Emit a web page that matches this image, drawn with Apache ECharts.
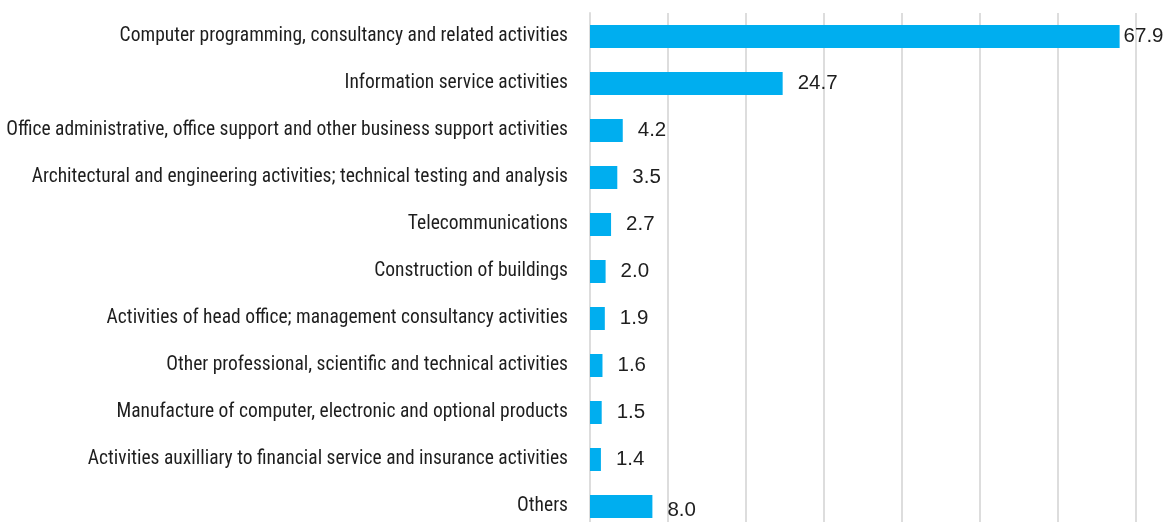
<!DOCTYPE html>
<html>
<head>
<meta charset="utf-8">
<script src="https://cdn.jsdelivr.net/npm/echarts@6/dist/echarts.min.js"></script>
<style>
  html, body { margin: 0; padding: 0; background: #fff; }
  #chart-container { width: 1167px; height: 522px; }
</style>
</head>
<body>
<div id="chart-container"></div>
<script>
// categories, top to bottom
const categories = [
    'Computer programming, consultancy and related activities',
    'Information service activities',
    'Office administrative, office support and other business support activities',
    'Architectural and engineering activities; technical testing and analysis',
    'Telecommunications',
    'Construction of buildings',
    'Activities of head office; management consultancy activities',
    'Other professional, scientific and technical activities',
    'Manufacture of computer, electronic and optional products',
    'Activities auxilliary to financial service and insurance activities',
    'Others'
]

// share values
const shares = [67.9, 24.7, 4.2, 3.5, 2.7, 2.0, 1.9, 1.6, 1.5, 1.4, 8.0]

// value axis range
const axisMin = 0
const axisMax = 70
const axisStep = 10

function createChart(id) {
    var dom = document.getElementById(id);
    var barChart = echarts.init(dom, null, {
        renderer: 'canvas',
        useDirtyRect: false
    });

    // top bar sits against the edge, its label hugs it
    let barData = shares.map((v, i) => {
        let item = { value: v }
        if (i == 0) {
            item.label = { distance: 4 }
        }
        if (i == shares.length - 1) {
            item.label = { offset: [0, 4] }
        }
        return item
    })

    var chartDetail = {
        animation: false,
        grid: {
            left: 590,
            right: 31,
            top: 13,
            bottom: -8,
            containLabel: false,
            outerBoundsMode: 'none'
        },
        xAxis: {
            type: 'value',
            min: axisMin,
            max: axisMax,
            interval: axisStep,
            axisLabel: { show: false },
            axisTick: { show: false },
            axisLine: { show: false },
            splitLine: {
                show: true,
                lineStyle: { color: '#dddddd', width: 2 }
            }
        },
        yAxis: {
            type: 'category',
            inverse: true,
            data: categories,
            axisTick: { show: false },
            axisLine: {
                show: true,
                lineStyle: { color: '#dddddd', width: 2 }
            },
            axisLabel: {
                margin: 22,
                color: '#1e1e1e',
                fontSize: 19.5,
                fontFamily: '"Liberation Sans Narrow", "Roboto Condensed", "DejaVu Sans Condensed", sans-serif'
            }
        },
        series: [
            {
                type: 'bar',
                data: barData,
                barWidth: 23,
                itemStyle: { color: '#00aeef' },
                label: {
                    show: true,
                    position: 'right',
                    distance: 15,
                    color: '#1e1e1e',
                    fontSize: 20.5,
                    fontFamily: '"Liberation Sans", Arial, sans-serif',
                    formatter: (p) => p.value.toFixed(1)
                }
            }
        ]
    };
    barChart.setOption(chartDetail);
}

createChart('chart-container')
</script>
</body>
</html>
